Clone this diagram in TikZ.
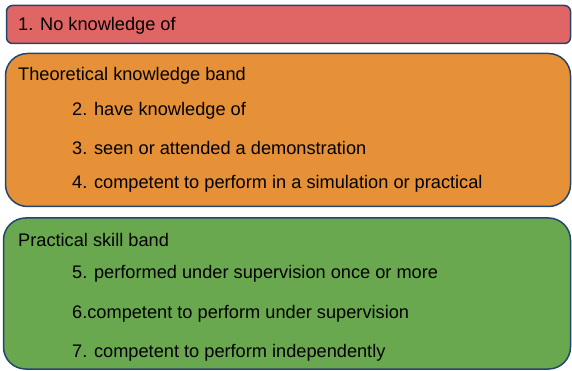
\documentclass[tikz,border=0pt]{standalone}
\usepackage{fontspec}
\setmainfont{Liberation Sans}
\usetikzlibrary{positioning}
\definecolor{bandred}{RGB}{224, 102, 102}
\definecolor{bandorange}{RGB}{230, 145, 56}
\definecolor{bandgreen}{RGB}{106, 168, 79}
\definecolor{bandedge}{RGB}{35, 70, 110}

\begin{document}
\begin{tikzpicture}[x=1pt, y=-1pt,
    band/.style={draw=bandedge, line width=1.5pt, inner sep=0pt},
    txt/.style={anchor=west, inner sep=0pt, font=\fontsize{18.2}{21}\selectfont}]
    \useasboundingbox (0, 0) rectangle (572, 371);

    % boxes
    \node[band, fill=bandred, rounded corners=6pt, minimum width=564pt, minimum height=38pt] (none) at (288.5, 24.5) {};
    \node[band, fill=bandorange, rounded corners=22pt, minimum width=565pt, minimum height=153pt] (theory) at (288, 130) {};
    \node[band, fill=bandgreen, rounded corners=22pt, minimum width=567pt, minimum height=151pt] (practice) at (287, 293.5) {};

    % texts
    \node[txt] (l1) at (18, 25.5) {1. No knowledge of};
    \node[txt] (th) at (18, 75.5) {Theoretical knowledge band};
    \node[txt] (l2) at (72, 111) {2. have knowledge of};
    \node[txt] (l3) at (72, 147.5) {3. seen or attended a demonstration};
    \node[txt] (l4) at (72, 183.5) {4. competent to perform in a simulation or practical};
    \node[txt] (pr) at (18, 239.5) {Practical skill band};
    \node[txt] (l5) at (72, 273.5) {5. performed under supervision once or more};
    \node[txt] (l6) at (72, 313.5) {6.competent to perform under supervision};
    \node[txt] (l7) at (72, 352.5) {7. competent to perform independently};
\end{tikzpicture}
\end{document}
